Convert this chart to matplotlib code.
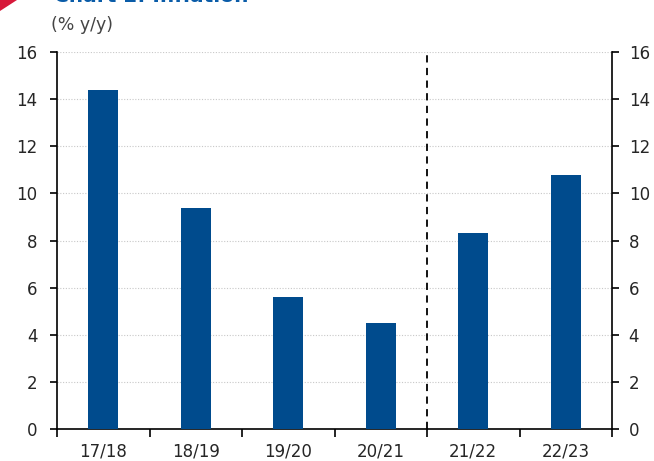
import matplotlib
matplotlib.use("Agg")
import matplotlib.pyplot as plt
from matplotlib.patches import Polygon
import numpy as np

plt.rcParams['font.family'] = ['DejaVu Sans']

# fiscal years and annual inflation (% y/y)
years = ["17/18", "18/19", "19/20", "20/21", "21/22", "22/23"]
inflation = [14.4, 9.4, 5.6, 4.5, 8.3, 10.8]
y_ticks = [0, 2, 4, 6, 8, 10, 12, 14, 16]

BAR_BLUE = "#004B8D"
TITLE_BLUE = "#0A5CA8"
TEXT = "#262626"

fig = plt.figure(figsize=(6.54, 4.61), dpi=100)
ax = fig.add_axes([0.0872, 0.0694, 0.8486, 0.8178])

x = np.arange(len(years))
ax.bar(x, inflation, width=0.32, color=BAR_BLUE, zorder=3)

# dashed divider between outturn and forecast years
ax.axvline(3.5, color="black", linestyle=(0, (4, 3)), linewidth=1.3, zorder=4)

ax.set_xlim(-0.5, len(years) - 0.5)
ax.set_ylim(0, 16)
ax.set_yticks(y_ticks)
ax.set_yticklabels([str(t) for t in y_ticks], fontsize=12, color=TEXT)
ax.grid(axis="y", color="#c8c8c8", linestyle=(0, (1, 1.5)), linewidth=0.8, zorder=0)

# category labels sit between the boundary ticks
ax.set_xticks(np.arange(-0.5, len(years), 1.0))
ax.set_xticklabels([])
ax.set_xticks(x, minor=True)
ax.set_xticklabels(years, minor=True, fontsize=12, color=TEXT)
ax.tick_params(axis="x", which="major", direction="out", length=6, width=1.2)
ax.tick_params(axis="x", which="minor", length=0, pad=10)
ax.tick_params(axis="y", direction="out", length=5, width=1.2, pad=9)

for side in ["left", "bottom"]:
    ax.spines[side].set_linewidth(1.2)
ax.spines["top"].set_visible(False)
ax.spines["right"].set_visible(False)

# mirrored axis on the right
ax2 = ax.twinx()
ax2.set_ylim(0, 16)
ax2.set_yticks(y_ticks)
ax2.set_yticklabels([str(t) for t in y_ticks], fontsize=12, color=TEXT)
ax2.tick_params(axis="y", direction="out", length=5, width=1.2, pad=7)
ax2.spines["right"].set_linewidth(1.2)
for side in ["left", "top", "bottom"]:
    ax2.spines[side].set_visible(False)

fig.text(0.078, 0.946, "(% y/y)", fontsize=12.5, color="#444444", ha="left", va="center")
fig.text(0.083, 1 - 2 / 461, "Chart 2: Inflation", fontsize=14.5, fontweight="bold",
         color=TITLE_BLUE, ha="left", va="baseline")

# red corner marker
fig.patches.append(Polygon([[0, 1], [17 / 654, 1], [0, 1 - 11 / 461]], closed=True,
                           transform=fig.transFigure, facecolor="#D7193A",
                           edgecolor="none"))

fig.savefig("out.png", dpi=100)
